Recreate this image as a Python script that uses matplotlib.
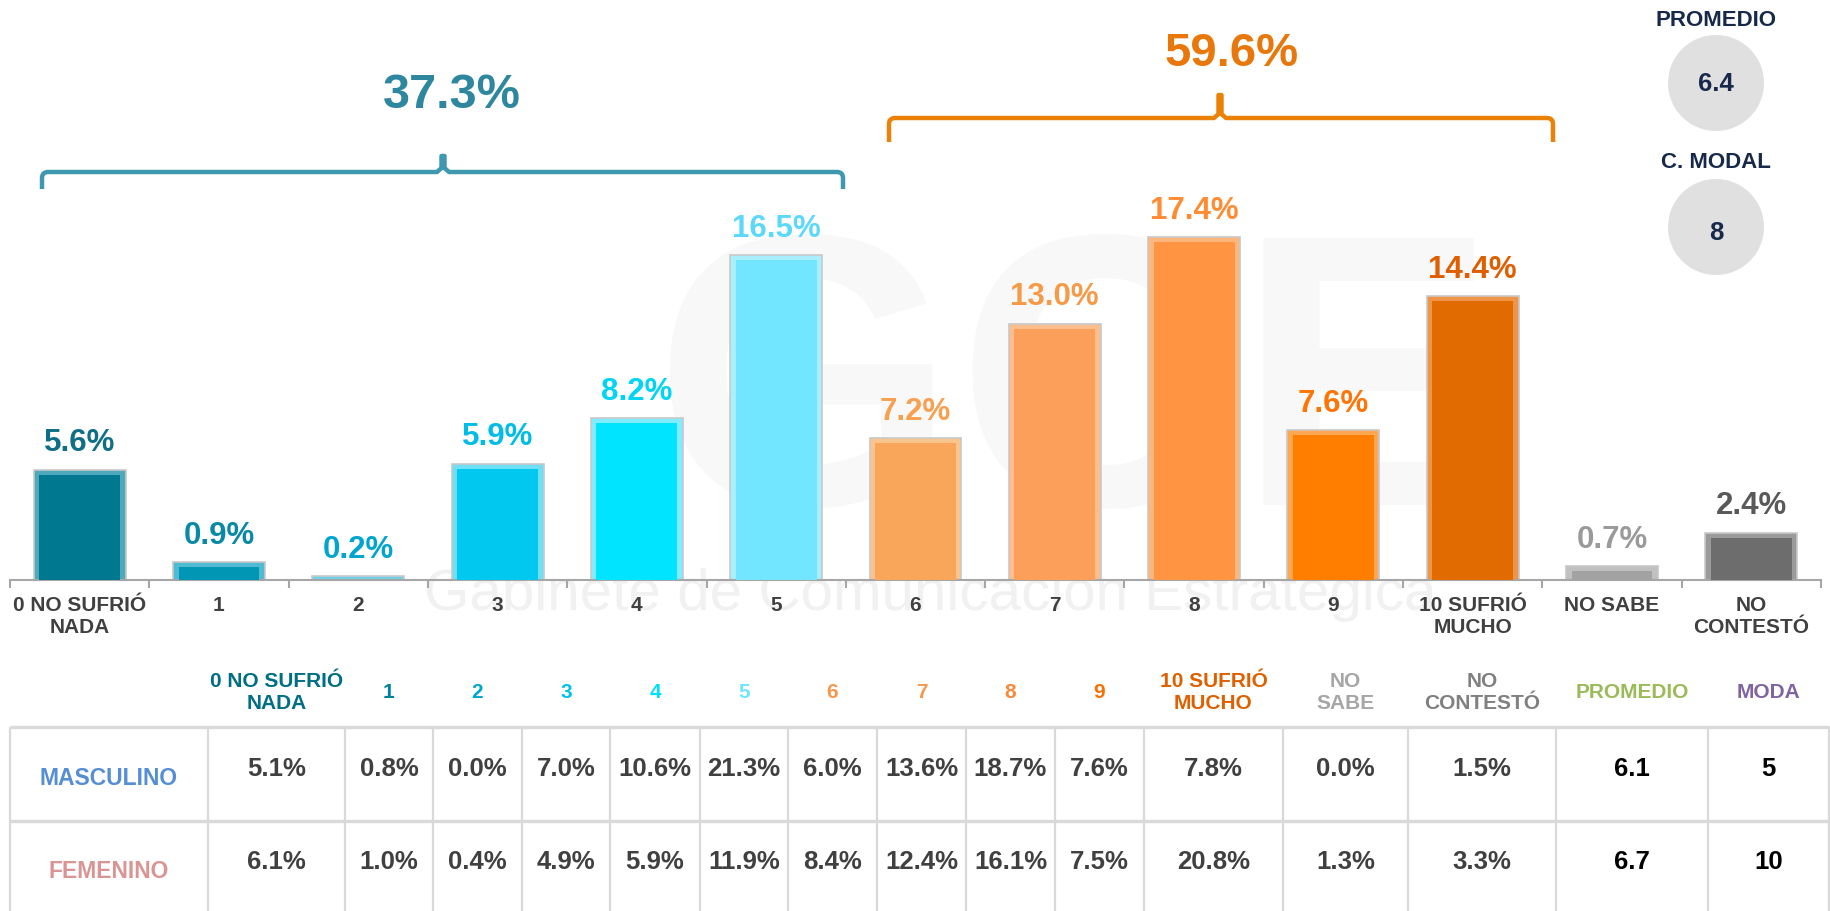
import numpy as np
import matplotlib
matplotlib.use('Agg')
import matplotlib.pyplot as plt
from matplotlib.patches import Circle, PathPatch
from matplotlib.path import Path

plt.rcParams['font.family'] = ['Liberation Sans', 'DejaVu Sans']

# ---- datos de las barras ----
categorias = ['0 NO SUFRIÓ\nNADA', '1', '2', '3', '4', '5', '6', '7', '8', '9',
              '10 SUFRIÓ\nMUCHO', 'NO SABE', 'NO\nCONTESTÓ']
porcentajes = [5.6, 0.9, 0.2, 5.9, 8.2, 16.5, 7.2, 13.0, 17.4, 7.6, 14.4, 0.7, 2.4]
colores_barra = ['#00788F', '#0096B4', '#00B0D8', '#00C8EE', '#00E4FF', '#73E6FF',
                 '#F9A65A', '#FB9F5B', '#FF9442', '#FF7E00', '#E26B00', '#A2A2A2', '#6D6D6D']
colores_borde = ['#4FA9BC', '#4FBBD2', '#6FD2EA', '#6FDFF6', '#80ECFF', '#A8EFFF',
                 '#FBC48C', '#FCBE8C', '#FFB67C', '#FFA650', '#EE9548', '#C0C0C0', '#9A9A9A']
colores_etiqueta = ['#0F6F86', '#0A89A6', '#00A5CF', '#00BDE8', '#00D5F5', '#5CD9FA',
                    '#F7A050', '#F79A48', '#FF8C33', '#FF7505', '#E05E00', '#9A9A9A', '#595959']

total_bajo = 37.3
total_alto = 59.6
promedio = 6.4
c_modal = 8

# ---- datos de la tabla ----
encabezados = ['0 NO SUFRIÓ\nNADA', '1', '2', '3', '4', '5', '6', '7', '8', '9',
               '10 SUFRIÓ\nMUCHO', 'NO\nSABE', 'NO\nCONTESTÓ', 'PROMEDIO', 'MODA']
colores_encabezado = ['#006E85', '#00809C', '#00A5CF', '#00C0EE', '#00DDFF', '#6EE6FF',
                      '#F7964A', '#F7964A', '#F88A3C', '#F87000', '#E06000', '#A6A6A6',
                      '#808080', '#9BBB59', '#8064A2']
masculino_pct = [5.1, 0.8, 0.0, 7.0, 10.6, 21.3, 6.0, 13.6, 18.7, 7.6, 7.8, 0.0, 1.5]
femenino_pct = [6.1, 1.0, 0.4, 4.9, 5.9, 11.9, 8.4, 12.4, 16.1, 7.5, 20.8, 1.3, 3.3]
masculino_prom, masculino_moda = 6.1, 5
femenino_prom, femenino_moda = 6.7, 10

W, H = 1831, 912
fig = plt.figure(figsize=(W / 100, H / 100), dpi=100, facecolor='white')

# capa de fondo en pixeles (marca de agua, llaves, tabla)
ov = fig.add_axes([0, 0, 1, 1], zorder=0)
ov.set_xlim(0, W)
ov.set_ylim(H, 0)
ov.axis('off')

# marca de agua (muy tenue)
ov.text(1075, 505, 'GCE', fontsize=280, fontweight='bold', color='#f8f8f8',
        ha='center', va='baseline', zorder=0)
ov.text(930, 610, 'Gabinete de Comunicación Estratégica', fontsize=42,
        color='#f1f1f1', ha='center', va='baseline', zorder=0)

# ---- barras ----
base_y = 581
px_por_pct = 19.7
ax = fig.add_axes([10 / W, (H - base_y) / H, 1811 / W, base_y / H], zorder=1)
ax.patch.set_alpha(0)
x = np.arange(len(categorias))
vals = np.array(porcentajes)
ax.bar(x, vals, width=0.66, color=colores_borde, edgecolor='#c8c8c8', linewidth=1.2, zorder=2)
ax.bar(x, np.maximum(vals - 0.25, 0), width=0.58, color=colores_barra, linewidth=0, zorder=3)
for xi, v, c in zip(x, vals, colores_etiqueta):
    ax.annotate(f'{v:.1f}%', (xi, v), xytext=(0, 14), textcoords='offset points',
                ha='center', va='baseline', fontsize=22.5, fontweight='bold', color=c)

ax.set_xlim(-0.5, len(categorias) - 0.5)
ax.set_ylim(0, base_y / px_por_pct)
for s in ['top', 'right', 'left']:
    ax.spines[s].set_visible(False)
ax.spines['bottom'].set_color('#a6a6a6')
ax.spines['bottom'].set_linewidth(1.5)
ax.set_yticks([])
ax.set_xticks(x)
ax.set_xticklabels(categorias, fontsize=15, fontweight='bold', color='#404040')
ax.set_xticks(np.arange(-0.5, len(categorias), 1), minor=True)
ax.tick_params(axis='x', which='major', length=0, pad=11)
ax.tick_params(axis='x', which='minor', length=6, width=1.5, color='#a6a6a6')

# ---- llaves ----
def llave(x0, x1, xc, y, y_fin, y_pico, color):
    r = 6
    verts = [(x0, y_fin), (x0, y + r), (x0, y), (x0 + r, y),
             (xc - 6, y), (xc - 1.5, y - 4), (xc - 1.5, y_pico), (xc + 1.5, y_pico),
             (xc + 1.5, y - 4), (xc + 6, y),
             (x1 - r, y), (x1, y), (x1, y + r), (x1, y_fin)]
    codes = [Path.MOVETO, Path.LINETO, Path.CURVE3, Path.CURVE3,
             Path.LINETO, Path.LINETO, Path.LINETO, Path.LINETO,
             Path.LINETO, Path.LINETO,
             Path.LINETO, Path.CURVE3, Path.CURVE3, Path.LINETO]
    ov.add_patch(PathPatch(Path(verts, codes), facecolor='none', edgecolor=color,
                           lw=3.2, joinstyle='round', capstyle='butt'))

llave(42, 843, 443, 173, 190, 157, '#3D98B0')
llave(889, 1553, 1220, 119, 143, 96, '#EB8208')
ov.text(452, 108, f'{total_bajo:.1f}%', fontsize=35, fontweight='bold', color='#2E879F',
        ha='center', va='baseline')
ov.text(1232, 66, f'{total_alto:.1f}%', fontsize=34, fontweight='bold', color='#E8780C',
        ha='center', va='baseline')

# ---- circulos promedio / modal ----
navy = '#17294A'
ov.text(1716, 26, 'PROMEDIO', fontsize=16, fontweight='bold', color=navy, ha='center', va='baseline')
ov.add_patch(Circle((1716, 84), 48, facecolor='#e0e0e0', edgecolor='none'))
ov.text(1716, 91, f'{promedio:.1f}', fontsize=18.5, fontweight='bold', color=navy, ha='center', va='baseline')
ov.text(1716, 168, 'C. MODAL', fontsize=16, fontweight='bold', color=navy, ha='center', va='baseline')
ov.add_patch(Circle((1716, 228), 48, facecolor='#e0e0e0', edgecolor='none'))
ov.text(1716, 240, f'{c_modal}', fontsize=18.5, fontweight='bold', color=navy, ha='center', va='baseline')

# ---- tabla ----
bordes_col = [10, 208, 345, 433, 522, 610, 700, 788, 877, 966, 1055, 1144, 1283, 1408, 1556, 1708, 1829]
centros = [(a + b) / 2 for a, b in zip(bordes_col[:-1], bordes_col[1:])]
gris = '#d9d9d9'
for xe in bordes_col:
    ov.plot([xe, xe], [728, H], color=gris, lw=1.6, solid_capstyle='butt')
for ye in [728, 822]:
    ov.plot([bordes_col[0], bordes_col[-1]], [ye, ye], color=gris, lw=2.4, solid_capstyle='butt')

for cx, txt, c in zip(centros[1:], encabezados, colores_encabezado):
    ov.text(cx, 693, txt, fontsize=15, fontweight='bold', color=c, ha='center', va='center',
            linespacing=1.2)

filas = [('MASCULINO', '#558ED5', masculino_pct, masculino_prom, masculino_moda, 776),
         ('FEMENINO', '#D99594', femenino_pct, femenino_prom, femenino_moda, 869)]
for nombre, col, pcts, prom, moda, yb in filas:
    ov.text(centros[0], yb + 9, nombre, fontsize=16.5, fontweight='bold', color=col,
            ha='center', va='baseline')
    for cx, p in zip(centros[1:14], pcts):
        ov.text(cx, yb, f'{p:.1f}%', fontsize=18.5, fontweight='bold', color='#404040',
                ha='center', va='baseline')
    ov.text(centros[14], yb, f'{prom:.1f}', fontsize=18.5, fontweight='bold', color='black',
            ha='center', va='baseline')
    ov.text(centros[15], yb, f'{moda}', fontsize=18.5, fontweight='bold', color='black',
            ha='center', va='baseline')

fig.savefig('out.png', dpi=100, facecolor='white')
